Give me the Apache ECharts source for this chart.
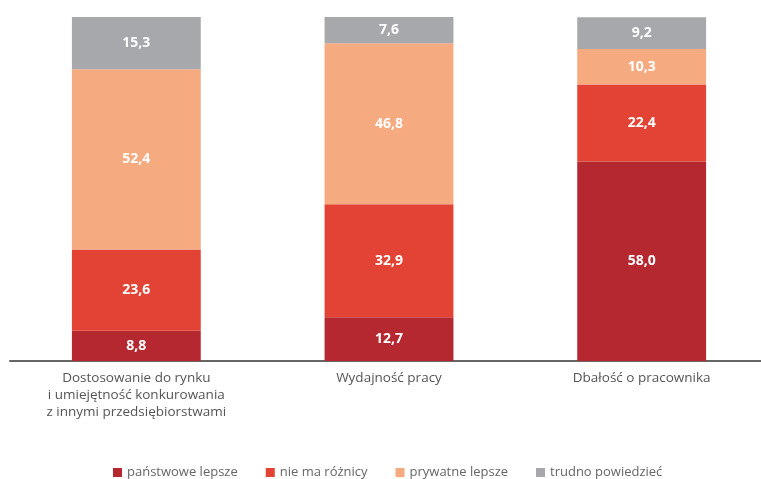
<!DOCTYPE html>
<html lang="pl">
<head>
    <meta charset="UTF-8">
    <title>Chart</title>
    <script src="https://cdn.jsdelivr.net/npm/echarts@6/dist/echarts.min.js"></script>
    <style>html,body{margin:0;padding:0;background:#fff;overflow:hidden;}</style>
</head>
<body>
<div id="chart" style="width: 768px; height: 479px;"></div>
<script>
    var categories = ['Dostosowanie do rynku\ni umiejętność konkurowania\nz innymi przedsiębiorstwami', 'Wydajność pracy', 'Dbałość o pracownika'];
    var seriesNames = ['państwowe lepsze', 'nie ma różnicy', 'prywatne lepsze', 'trudno powiedzieć'];
    var panstwowe = [8.8, 12.7, 58.0];
    var bezRoznicy = [23.6, 32.9, 22.4];
    var prywatne = [52.4, 46.8, 10.3];
    var trudno = [15.3, 7.6, 9.2];
    var colors = ['#b5282f', '#e34334', '#f6aa80', '#a7a8ab'];

    var chart = echarts.init(document.getElementById('chart'));
    var values = [panstwowe, bezRoznicy, prywatne, trudno];

    chart.setOption({
        animation: false,
        textStyle: {fontFamily: 'Open Sans'},
        grid: {left: 10, right: 0, top: 17, bottom: 118, containLabel: false},
        legend: {
            top: 461,
            left: 108,
            itemWidth: 9,
            itemHeight: 9,
            itemGap: 28,
            icon: 'rect',
            textStyle: {color: '#666', fontSize: 13, fontFamily: 'Open Sans'},
            data: seriesNames
        },
        xAxis: {
            type: 'category',
            data: categories,
            axisLine: {lineStyle: {color: '#666', width: 2}},
            axisTick: {show: false},
            axisLabel: {color: '#555', fontSize: 13.5, lineHeight: 17, margin: 9, interval: 0}
        },
        yAxis: {
            type: 'value',
            min: 0,
            max: 100,
            show: false
        },
        series: values.map(function (arr, i) {
            return {
                name: seriesNames[i],
                type: 'bar',
                stack: 'all',
                barWidth: '51%',
                data: arr,
                itemStyle: {color: colors[i]},
                label: {
                    show: true,
                    position: 'inside',
                    color: '#fff',
                    fontWeight: 'bold',
                    fontSize: 14,
                    formatter: function (p) { return p.value.toFixed(1).replace('.', ','); }
                }
            };
        })
    });
</script>
</body>
</html>
